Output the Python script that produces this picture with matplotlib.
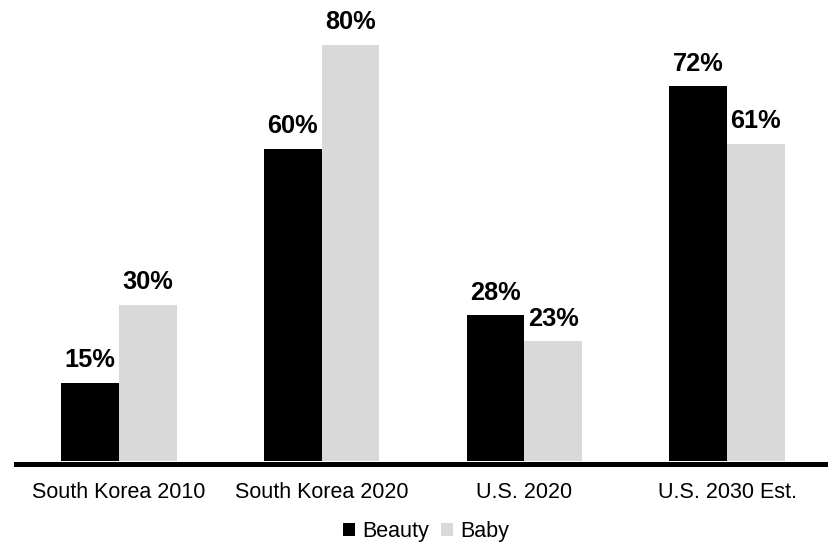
import matplotlib
matplotlib.use("Agg")
import matplotlib.pyplot as plt
from matplotlib.patches import Patch
import numpy as np

categories = ["South Korea 2010", "South Korea 2020", "U.S. 2020", "U.S. 2030 Est."]
beauty = [15, 60, 28, 72]
baby = [30, 80, 23, 61]
series_names = ["Beauty", "Baby"]
colors = ["#000000", "#d9d9d9"]

plt.rcParams['font.family'] = ['Liberation Sans', 'DejaVu Sans']

fig = plt.figure(figsize=(8.29, 5.46), dpi=100)
ax = fig.add_axes([16/829, 1 - 463.5/546, 1 - 16/829, 463.5/546])

x = np.arange(len(categories))
w = 0.285
for vals, off, c in [(beauty, -w/2, colors[0]), (baby, w/2, colors[1])]:
    ax.bar(x + off, vals, width=w, color=c, linewidth=0)
    for xi, v in zip(x + off, vals):
        ax.annotate(f"{v}%", (xi, v), xytext=(0, 11.3), textcoords="offset points",
                    ha="center", va="baseline", fontsize=18.3, fontweight="bold", color="black")

ax.set_xlim(-0.508, 3.503)
ax.set_ylim(-0.5, -0.5 + 463.5/5.2)
for s in ["top", "right", "left"]:
    ax.spines[s].set_visible(False)
ax.spines["bottom"].set_linewidth(3.6)
ax.spines["bottom"].set_color("black")
ax.set_yticks([])
ax.set_xticks(x)
ax.set_xticklabels(categories, fontsize=15.5)
ax.tick_params(axis="x", length=0, pad=13.5)

handles = [Patch(facecolor=c, edgecolor="none") for c in colors]
fig.legend(handles, series_names, loc="center", bbox_to_anchor=(426/829, 1 - 532/546),
           ncol=2, frameon=False, fontsize=15.5, handlelength=0.55, handleheight=0.55,
           handletextpad=0.33, columnspacing=0.56, borderpad=0)

fig.savefig("out.png", dpi=100)
